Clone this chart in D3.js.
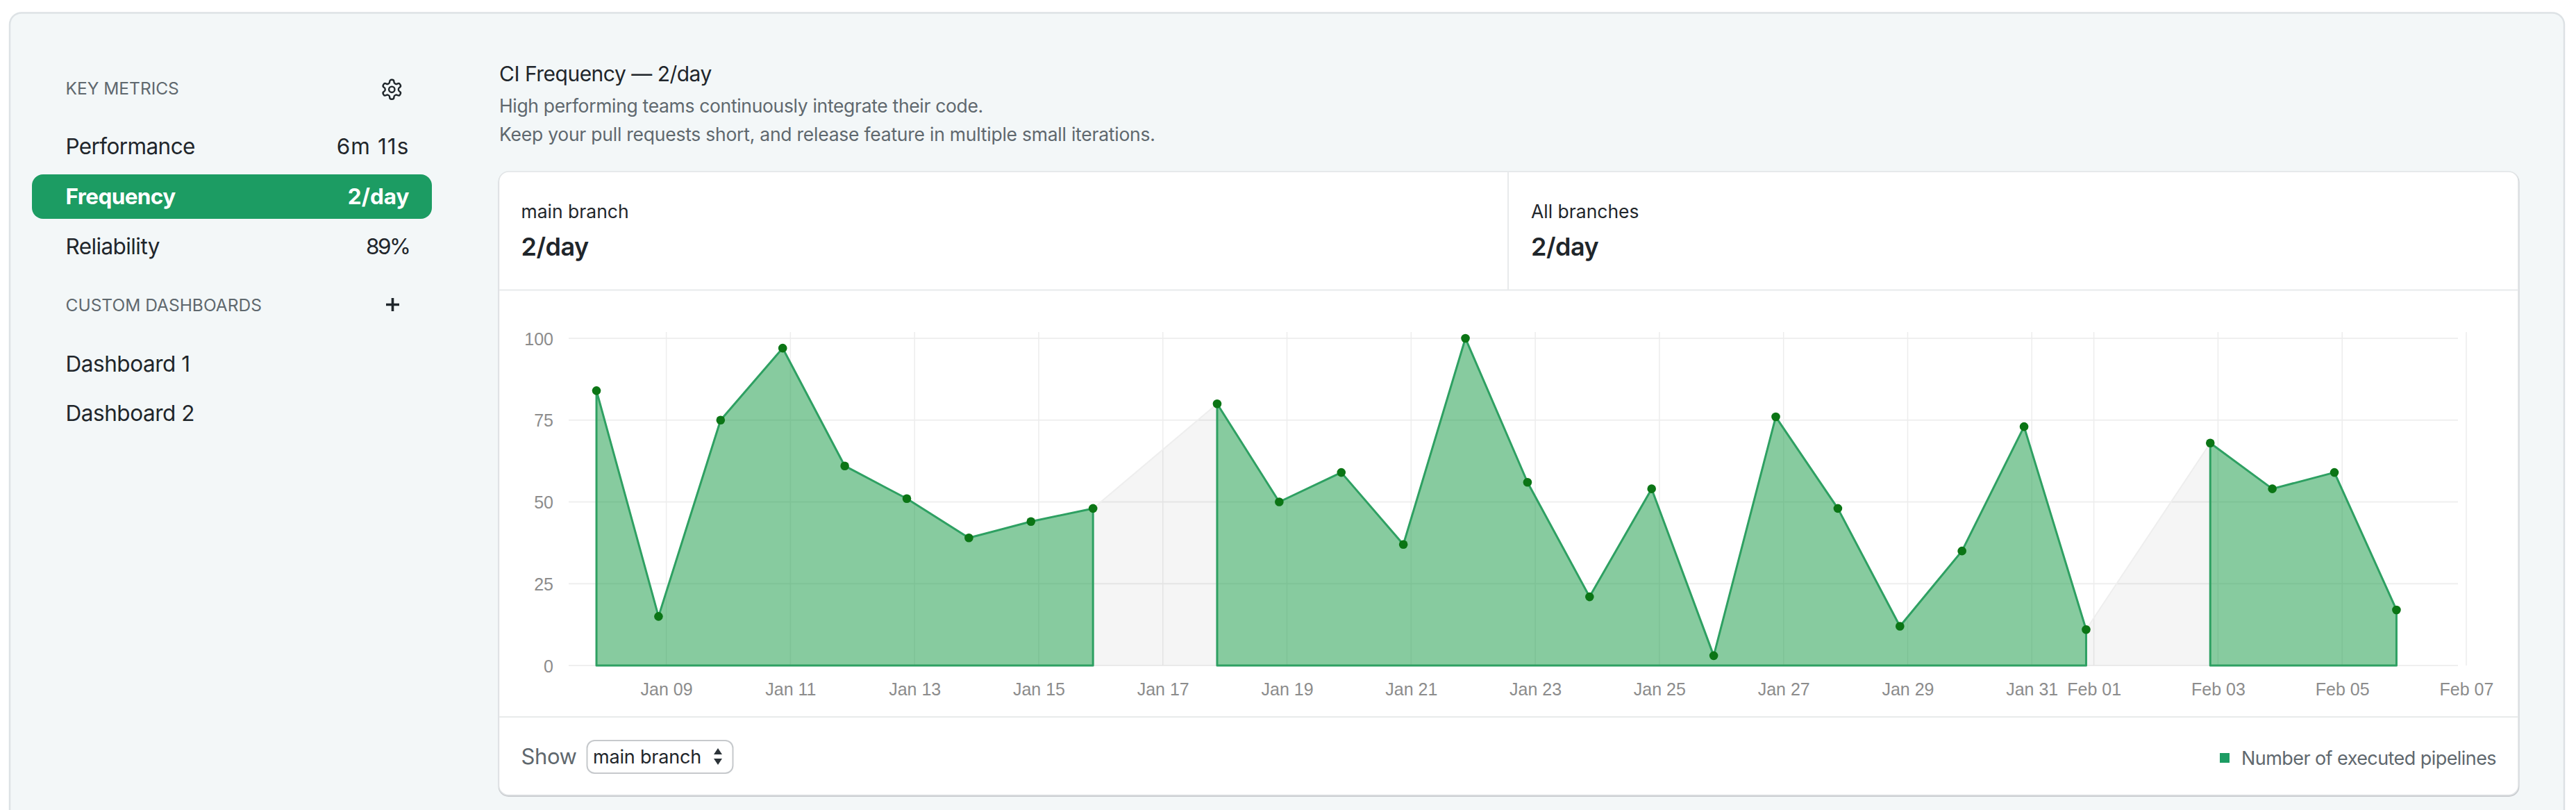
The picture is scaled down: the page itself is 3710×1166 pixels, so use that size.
<!DOCTYPE html>
<html>
<head>
<meta charset="utf-8">
<script src="https://cdn.jsdelivr.net/npm/d3@7"></script>
<style>
    html, body { margin: 0; padding: 0; background: #fff; overflow: hidden; }
    svg { display: block; }
    text { font-family: Inter, "Noto Sans", sans-serif; }
    .axis text { font-family: "Liberation Sans", Arial, sans-serif; font-size: 25px; fill: #8c8c8c; }
    .axis path { display: none; }
</style>
</head>
<body>
<script>
// 每日流水线数量，null 表示当天没有数据
var v_Dates  = ["01-08","01-09","01-10","01-11","01-12","01-13","01-14","01-15","01-16","01-17"
               ,"01-18","01-19","01-20","01-21","01-22","01-23","01-24","01-25","01-26","01-27"
               ,"01-28","01-29","01-30","01-31","02-01","02-02","02-03","02-04","02-05","02-06"];
var v_Values = [84,15,75,97,61,51,39,44,48,null
               ,80,50,59,37,100,56,21,54,3,76
               ,48,12,35,73,11,null,68,54,59,17];

var v_XTicks = ["01-09","01-11","01-13","01-15","01-17","01-19","01-21","01-23","01-25","01-27","01-29","01-31","02-01","02-03","02-05","02-07"];
var v_YTicks = [0,25,50,75,100];

var v_KeyMetrics = ["Performance","Frequency","Reliability"];
var v_KeyValues  = ["6m 11s","2/day","89%"];
var v_Dashboards = ["Dashboard 1","Dashboard 2"];
var v_Cards      = ["main branch","All branches"];
var v_CardValues = ["2/day","2/day"];

var v_Green   = "#1c9c63";
var v_Stroke  = "#2ea062";
var v_Dot     = "#0b7515";
var v_Ink     = "#1f262b";
var v_Muted   = "#5f686e";

var v_SVG = d3.select("body").append("svg").attr("width", 3710).attr("height", 1166);


function addText(i_Parent ,i_X ,i_Y ,i_Text ,i_Size ,i_Fill ,i_Weight ,i_Anchor)
{
    return i_Parent.append("text")
        .attr("x", i_X)
        .attr("y", i_Y)
        .attr("font-size", i_Size)
        .attr("fill", i_Fill)
        .attr("font-weight", i_Weight || 400)
        .attr("text-anchor", i_Anchor || "start")
        .text(i_Text);
}


function toDate(i_MD)
{
    return new Date("2024-" + i_MD + "T00:00:00Z");
}


// 外层面板
v_SVG.append("rect").attr("x", 14).attr("y", 18.5).attr("width", 3679).attr("height", 1300).attr("rx", 17)
    .attr("fill", "#f3f7f8").attr("stroke", "#dde2e5").attr("stroke-width", 2.5);


// 左侧菜单
addText(v_SVG, 94.5, 136, "KEY METRICS", 24.5, v_Muted);
v_SVG.append("g").attr("transform", "translate(547.5,112) scale(1.4)").call(function (g)
{
    g.append("path")
        .attr("d", "M12.22 2h-.44a2 2 0 0 0-2 2v.18a2 2 0 0 1-1 1.73l-.43.25a2 2 0 0 1-2 0l-.15-.08a2 2 0 0 0-2.73.73l-.22.38a2 2 0 0 0 .73 2.73l.15.1a2 2 0 0 1 1 1.72v.51a2 2 0 0 1-1 1.74l-.15.09a2 2 0 0 0-.73 2.73l.22.38a2 2 0 0 0 2.73.73l.15-.08a2 2 0 0 1 2 0l.43.25a2 2 0 0 1 1 1.73V20a2 2 0 0 0 2 2h.44a2 2 0 0 0 2-2v-.18a2 2 0 0 1 1-1.73l.43-.25a2 2 0 0 1 2 0l.15.08a2 2 0 0 0 2.73-.73l.22-.39a2 2 0 0 0-.73-2.73l-.15-.08a2 2 0 0 1-1-1.74v-.5a2 2 0 0 1 1-1.74l.15-.09a2 2 0 0 0 .73-2.73l-.22-.38a2 2 0 0 0-2.73-.73l-.15.08a2 2 0 0 1-2 0l-.43-.25a2 2 0 0 1-1-1.73V4a2 2 0 0 0-2-2z")
        .attr("fill", "none").attr("stroke", v_Ink).attr("stroke-width", 1.7);
    g.append("circle").attr("cx", 12).attr("cy", 12).attr("r", 3).attr("fill", "none").attr("stroke", v_Ink).attr("stroke-width", 1.7);
});

v_SVG.append("rect").attr("x", 46).attr("y", 251).attr("width", 576).attr("height", 64).attr("rx", 16).attr("fill", v_Green);

v_KeyMetrics.forEach(function (v_Name ,i)
{
    let v_Active = i == 1;
    let v_Y      = 222 + i * 72;
    addText(v_SVG, 94.5,  v_Y, v_Name,         31.5, v_Active ? "#fff" : v_Ink, v_Active ? 700 : 400).attr("letter-spacing", -0.6);
    addText(v_SVG, 589.5, v_Y, v_KeyValues[i], 31.5, v_Active ? "#fff" : v_Ink, v_Active ? 700 : 400, "end").attr("letter-spacing", [1.1, 0, -2.5][i]);
});

addText(v_SVG, 94.5, 448, "CUSTOM DASHBOARDS", 24.5, v_Muted);
v_SVG.append("path").attr("d", "M565.5 429V448M556 438.5H575").attr("stroke", v_Ink).attr("stroke-width", 3.6);

v_Dashboards.forEach(function (v_Name ,i)
{
    addText(v_SVG, 94.5, 534.5 + i * 71.5, v_Name, 31.5, v_Ink).attr("letter-spacing", -0.45);
});


// 标题
addText(v_SVG, 719, 117,   "CI Frequency — 2/day", 30, v_Ink).attr("letter-spacing", -0.5);
addText(v_SVG, 719, 161.5, "High performing teams continuously integrate their code.", 26.5, v_Muted).attr("letter-spacing", -0.33);
addText(v_SVG, 719, 203,   "Keep your pull requests short, and release feature in multiple small iterations.", 26.5, v_Muted).attr("letter-spacing", -0.24);


// 白色卡片
v_SVG.append("rect").attr("x", 717.5).attr("y", 247).attr("width", 2911).attr("height", 900).attr("rx", 15).attr("fill", "#c9cccf");
v_SVG.append("rect").attr("x", 718.5).attr("y", 247).attr("width", 2908.5).attr("height", 897.5).attr("rx", 14)
    .attr("fill", "#fff").attr("stroke", "#e1e4e6").attr("stroke-width", 1.5);

v_SVG.append("path").attr("d", "M719 417.5H3627M719 1032H3627M2172 248V417").attr("stroke", "#e8eaeb").attr("stroke-width", 2).attr("fill", "none");

v_Cards.forEach(function (v_Name ,i)
{
    let v_X = i == 0 ? 750.5 : 2205;
    addText(v_SVG, v_X, 314, v_Name,          26.5, v_Ink);
    addText(v_SVG, v_X, 368, v_CardValues[i], 36,   v_Ink, 600).attr("letter-spacing", -0.5);
});


// 图表
var v_XScale = d3.scaleUtc().domain([toDate("01-09"), toDate("02-07")]).range([959.6, 3552]);
var v_YScale = d3.scaleLinear().domain([0, 100]).range([958, 487]);

var v_YAxis = d3.axisLeft(v_YScale).tickValues(v_YTicks).tickSize(0).tickPadding(22);
var v_XAxis = d3.axisBottom(v_XScale)
    .tickValues(v_XTicks.map(toDate))
    .tickSize(0)
    .tickPadding(25)
    .tickFormat(d3.utcFormat("%b %d"));

var v_YAxisG = v_SVG.append("g").attr("class", "axis").attr("transform", "translate(819,0)").call(v_YAxis);
v_YAxisG.selectAll("text").attr("dy", "0.36em");

v_SVG.append("g").selectAll("line").data(v_YTicks).join("line")
    .attr("x1", 819).attr("x2", 3540)
    .attr("y1", d => v_YScale(d)).attr("y2", d => v_YScale(d))
    .attr("stroke", "#efefef").attr("stroke-width", 2);

v_SVG.append("g").selectAll("line").data(v_XTicks).join("line")
    .attr("x1", d => v_XScale(toDate(d))).attr("x2", d => v_XScale(toDate(d)))
    .attr("y1", 478).attr("y2", 958)
    .attr("stroke", "#ededed").attr("stroke-width", 1.5);

var v_XAxisG = v_SVG.append("g").attr("class", "axis").attr("transform", "translate(0,958)").call(v_XAxis);


// 数据点落在前一天的 21:00（时区偏移）
var v_Datas = v_Dates.map(function (v_MD ,i)
{
    return {date: new Date(toDate(v_MD).getTime() - 3 * 3600 * 1000), value: v_Values[i]};
});

var v_Area = d3.area()
    .defined(d => d.value != null)
    .x(d => v_XScale(d.date))
    .y0(v_YScale(0))
    .y1(d => v_YScale(d.value));

// 没有数据的区间用灰色连接
v_Datas.forEach(function (d ,i)
{
    if ( d.value == null )
    {
        let v_Gap = [v_Datas[i - 1], v_Datas[i + 1]];
        v_SVG.append("path").attr("d", v_Area(v_Gap)).attr("fill", "#000").attr("fill-opacity", 0.04);
        v_SVG.append("path").attr("d", d3.line().x(p => v_XScale(p.date)).y(p => v_YScale(p.value))(v_Gap))
            .attr("fill", "none").attr("stroke", "#eeeeee").attr("stroke-width", 2);
    }
});

v_SVG.append("path").attr("d", v_Area(v_Datas))
    .attr("fill", "#0f973f").attr("fill-opacity", 0.5)
    .attr("stroke", v_Stroke).attr("stroke-width", 3).attr("stroke-linejoin", "round");

v_SVG.append("g").selectAll("circle").data(v_Datas.filter(d => d.value != null)).join("circle")
    .attr("cx", d => v_XScale(d.date))
    .attr("cy", d => v_YScale(d.value))
    .attr("r", 6.3)
    .attr("fill", v_Dot);


// 底部
addText(v_SVG, 750.5, 1100, "Show", 31, v_Muted).attr("letter-spacing", -0.4);
v_SVG.append("rect").attr("x", 845.5).attr("y", 1066).attr("width", 210).attr("height", 47).attr("rx", 11)
    .attr("fill", "#fff").attr("stroke", "#c6c9cc").attr("stroke-width", 2);
addText(v_SVG, 854, 1099, "main branch", 27, v_Ink).attr("letter-spacing", -0.2);
v_SVG.append("path").attr("d", "M1034 1077L1040 1086H1028ZM1034 1101L1040 1092H1028Z").attr("fill", "#2c3338");

v_SVG.append("rect").attr("x", 3197).attr("y", 1084).attr("width", 14).attr("height", 14).attr("fill", v_Green);
addText(v_SVG, 3228, 1100.5, "Number of executed pipelines", 27, v_Muted).attr("letter-spacing", -0.57);
</script>
</body>
</html>
